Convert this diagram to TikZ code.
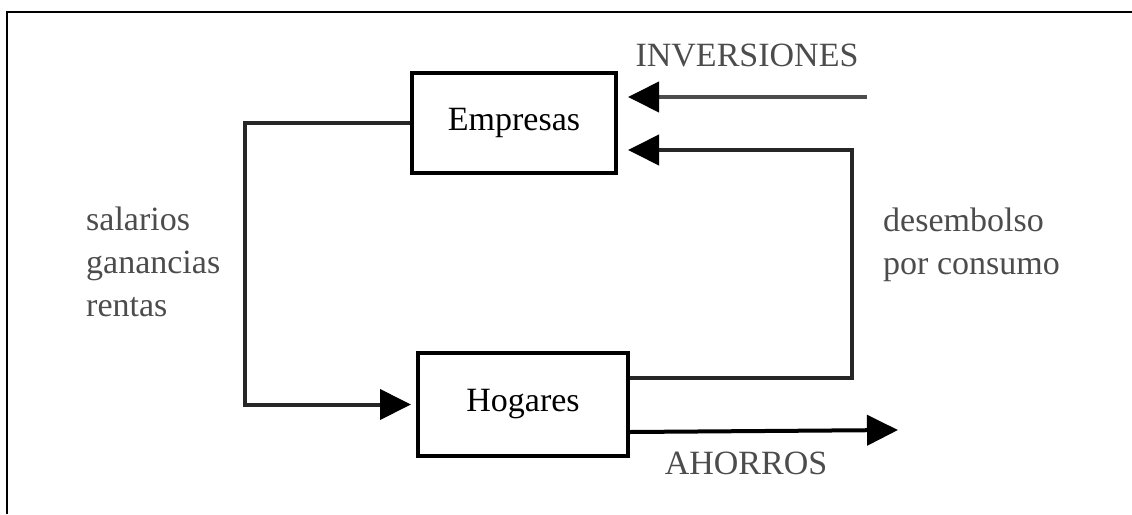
\documentclass[tikz,border=0pt]{standalone}
\usepackage{fontspec}
\setmainfont{Liberation Serif}
\usepackage{tikz}
\usetikzlibrary{arrows.meta}
\tikzstyle{every node}=[font=\fontsize{34}{43}\selectfont]
\tikzstyle{caja}=[draw, line width=4pt, minimum width=204pt, minimum height=100pt, inner sep=0pt]
\tikzstyle{flujo}=[line width=4pt, black!85]
\tikzstyle{rotulo}=[black!70, inner sep=0pt]

\begin{document}
\begin{tikzpicture}[x=1pt, y=-1pt, >={Triangle[length=31pt, width=30pt, color=black]}]
            \useasboundingbox (0, 0) rectangle (1132, 514);
            \draw [line width=2.5pt] (7, 514) -- (7, 12) -- (1132, 12);

            \node [caja] (emp) at (514, 123) {Empresas};
            \node [caja, minimum width=210pt, minimum height=103pt] (hog) at (523, 404.5) {Hogares};

            \coordinate (inv) at (867, 97);
            \coordinate (aho) at (898, 430);

            \draw [flujo, ->, shorten >=5pt] (emp.west) -- ++(-165, 0) |- (hog.west);
            \draw [flujo, ->, shorten >=10pt] ([yshift=-27pt]hog.north east) -- ++(222, 0) |- ([yshift=25pt]emp.south east);
            \draw [flujo, black!70, ->, shorten >=10pt] (inv) -- (inv -| emp.east);
            \draw [flujo, black, ->] ([yshift=26pt]hog.south east) -- (aho);

            \node [rotulo] (tinv) at (747, 56) {INVERSIONES};
            \node [rotulo] (taho) at (746, 463) {AHORROS};
            \node [rotulo, anchor=west, align=left] (tsal) at (86, 262) {salarios\\ganancias\\rentas};
            \node [rotulo, anchor=west, align=left] (tdes) at (883, 245) {desembolso\\por consumo};
        \end{tikzpicture}
\end{document}
